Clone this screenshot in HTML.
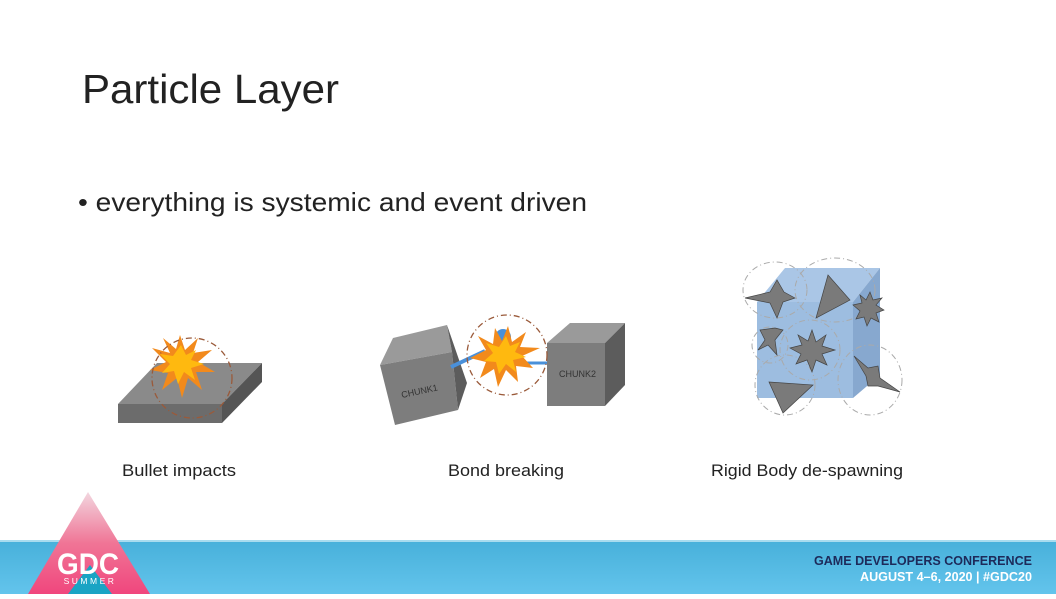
<!DOCTYPE html>
<html><head><meta charset="utf-8"><style>
body{margin:0;width:1056px;height:594px;overflow:hidden;background:#fff;font-family:"Liberation Sans","DejaVu Sans",sans-serif;}
</style></head><body>
<svg width="1056" height="594" viewBox="0 0 1056 594" xmlns="http://www.w3.org/2000/svg">
<defs>
<linearGradient id="band" x1="0" y1="0" x2="0" y2="1"><stop offset="0" stop-color="#47b0da"/><stop offset="1" stop-color="#63c4ec"/></linearGradient>
<linearGradient id="tri" x1="0" y1="0" x2="0" y2="1"><stop offset="0" stop-color="#f2d6df"/><stop offset="0.5" stop-color="#f07596"/><stop offset="1" stop-color="#f0467d"/></linearGradient>
</defs>
<text x="82" y="103" font-size="41" fill="#222" textLength="257" lengthAdjust="spacingAndGlyphs">Particle Layer</text>
<text x="78" y="211" font-size="26" fill="#222" textLength="509" lengthAdjust="spacingAndGlyphs">• everything is systemic and event driven</text>

<!-- slab -->
<polygon points="118,404 157,363 262,363 222,404" fill="#8a8a8a"/>
<polygon points="118,404 222,404 222,423 118,423" fill="#6c6c6c"/>
<polygon points="222,404 262,363 262,382 222,423" fill="#555"/>
<polygon points="180,335 185,350 198,338 193,353 212,350 198,362 215,372 196,372 202,390 188,378 182,398 177,378 162,390 168,373 150,370 166,362 152,348 170,353 163,338 176,349" fill="#f28a1c"/>
<polygon points="181,345 186,355 196,350 191,360 204,364 191,368 195,380 184,372 178,384 174,371 162,373 170,364 160,354 173,356" fill="#ffb90f"/>
<circle cx="192" cy="378" r="40" fill="none" stroke="#9a5a3a" stroke-width="1.3" stroke-dasharray="6,3,1,3"/>
<text x="122" y="476" font-size="17" fill="#222" textLength="114" lengthAdjust="spacingAndGlyphs">Bullet impacts</text>

<!-- bond -->
<polygon points="380,365 393,338 447,325 452,352" fill="#9a9a9a"/>
<polygon points="380,365 452,352 458,410 395,425" fill="#7d7d7d"/>
<polygon points="452,352 447,325 467,383 458,410" fill="#5c5c5c"/>
<text x="0" y="0" font-size="9" fill="#333" transform="translate(402,398) rotate(-12)">CHUNK1</text>
<polygon points="547,343 570,323 625,323 605,343" fill="#9a9a9a"/>
<rect x="547" y="343" width="58" height="63" fill="#7d7d7d"/>
<polygon points="605,343 625,323 625,385 605,406" fill="#5c5c5c"/>
<text x="559" y="377" font-size="9" fill="#333">CHUNK2</text>
<line x1="451" y1="367" x2="485" y2="351" stroke="#4a90d9" stroke-width="4"/>
<line x1="522" y1="363" x2="547" y2="363" stroke="#4a90d9" stroke-width="3"/>
<circle cx="503" cy="337" r="8" fill="#4a90d9"/>
<polygon points="508,326 512,342 526,332 520,347 540,348 522,356 533,368 516,366 518,382 506,370 498,387 494,369 480,378 486,362 470,358 486,350 478,336 493,344 495,328 502,341" fill="#f28a1c"/>
<polygon points="506,336 510,346 520,342 515,352 526,357 513,360 516,372 506,364 499,374 496,362 484,361 493,353 486,343 499,347" fill="#ffb90f"/>
<circle cx="507" cy="355" r="40" fill="none" stroke="#9a5a3a" stroke-width="1.3" stroke-dasharray="6,3,1,3"/>
<text x="448" y="476" font-size="17" fill="#222" textLength="116" lengthAdjust="spacingAndGlyphs">Bond breaking</text>

<!-- rigid body -->
<polygon points="757,302 785,268 880,268 853,302" fill="#aac6e6"/>
<rect x="757" y="302" width="96" height="96" fill="#9dbde0"/>
<polygon points="853,302 880,268 880,375 853,398" fill="#87a8cf"/>
<g fill="none" stroke="#aaa" stroke-width="1" stroke-dasharray="6,3,1,3">
<ellipse cx="775" cy="290" rx="32" ry="28"/><ellipse cx="835" cy="290" rx="40" ry="32"/>
<ellipse cx="870" cy="380" rx="32" ry="35"/><ellipse cx="785" cy="385" rx="30" ry="30"/>
<circle cx="810" cy="350" r="30"/><circle cx="770" cy="345" r="18"/>
</g>
<polygon points="745,298 770,292 777,280 784,292 795,298 783,302 777,318 770,303" fill="#7a7a7a" stroke="#444" stroke-width=".7"/>
<polygon points="828,275 850,300 816,318" fill="#7a7a7a" stroke="#444" stroke-width=".7"/>
<polygon points="870,292 873,300 882,298 876,305 884,310 876,313 879,322 871,318 867,326 864,317 856,319 860,311 853,305 862,303 860,295 866,300" fill="#7a7a7a" stroke="#444" stroke-width=".7"/>
<polygon points="760,330 775,328 783,330 775,340 777,355 768,345 758,350 765,340" fill="#7a7a7a" stroke="#444" stroke-width=".7"/>
<polygon points="812,330 816,342 826,335 822,346 835,350 822,354 827,365 816,360 812,372 807,360 796,364 801,354 790,348 802,345 798,335 808,341" fill="#7a7a7a" stroke="#444" stroke-width=".7"/>
<polygon points="854,356 868,368 878,366 880,378 900,392 878,386 868,386 866,376" fill="#7a7a7a" stroke="#444" stroke-width=".7"/>
<polygon points="769,382 813,385 783,413" fill="#7a7a7a" stroke="#444" stroke-width=".7"/>
<text x="711" y="476" font-size="17" fill="#222" textLength="192" lengthAdjust="spacingAndGlyphs">Rigid Body de-spawning</text>

<!-- footer -->
<rect x="0" y="540" width="1056" height="54" fill="url(#band)"/>
<rect x="0" y="540" width="1056" height="2" fill="#a8dcef"/>
<polygon points="88,492 150,594 28,594" fill="url(#tri)"/>
<polygon points="90,565 112,594 68,594" fill="#1aa4c4"/>
<text x="88" y="574" font-size="30" font-weight="bold" fill="#fff" text-anchor="middle" textLength="62" lengthAdjust="spacingAndGlyphs">GDC</text>
<text x="90" y="584" font-size="8.5" fill="#fff" text-anchor="middle" letter-spacing="2.5">SUMMER</text>
<text x="1032" y="565" font-size="12.5" font-weight="bold" fill="#1d2a5a" text-anchor="end" textLength="218" lengthAdjust="spacingAndGlyphs">GAME DEVELOPERS CONFERENCE</text>
<text x="1032" y="581" font-size="12.5" font-weight="bold" fill="#fff" text-anchor="end" textLength="172" lengthAdjust="spacingAndGlyphs">AUGUST 4–6, 2020 | #GDC20</text>
</svg>
</body></html>
